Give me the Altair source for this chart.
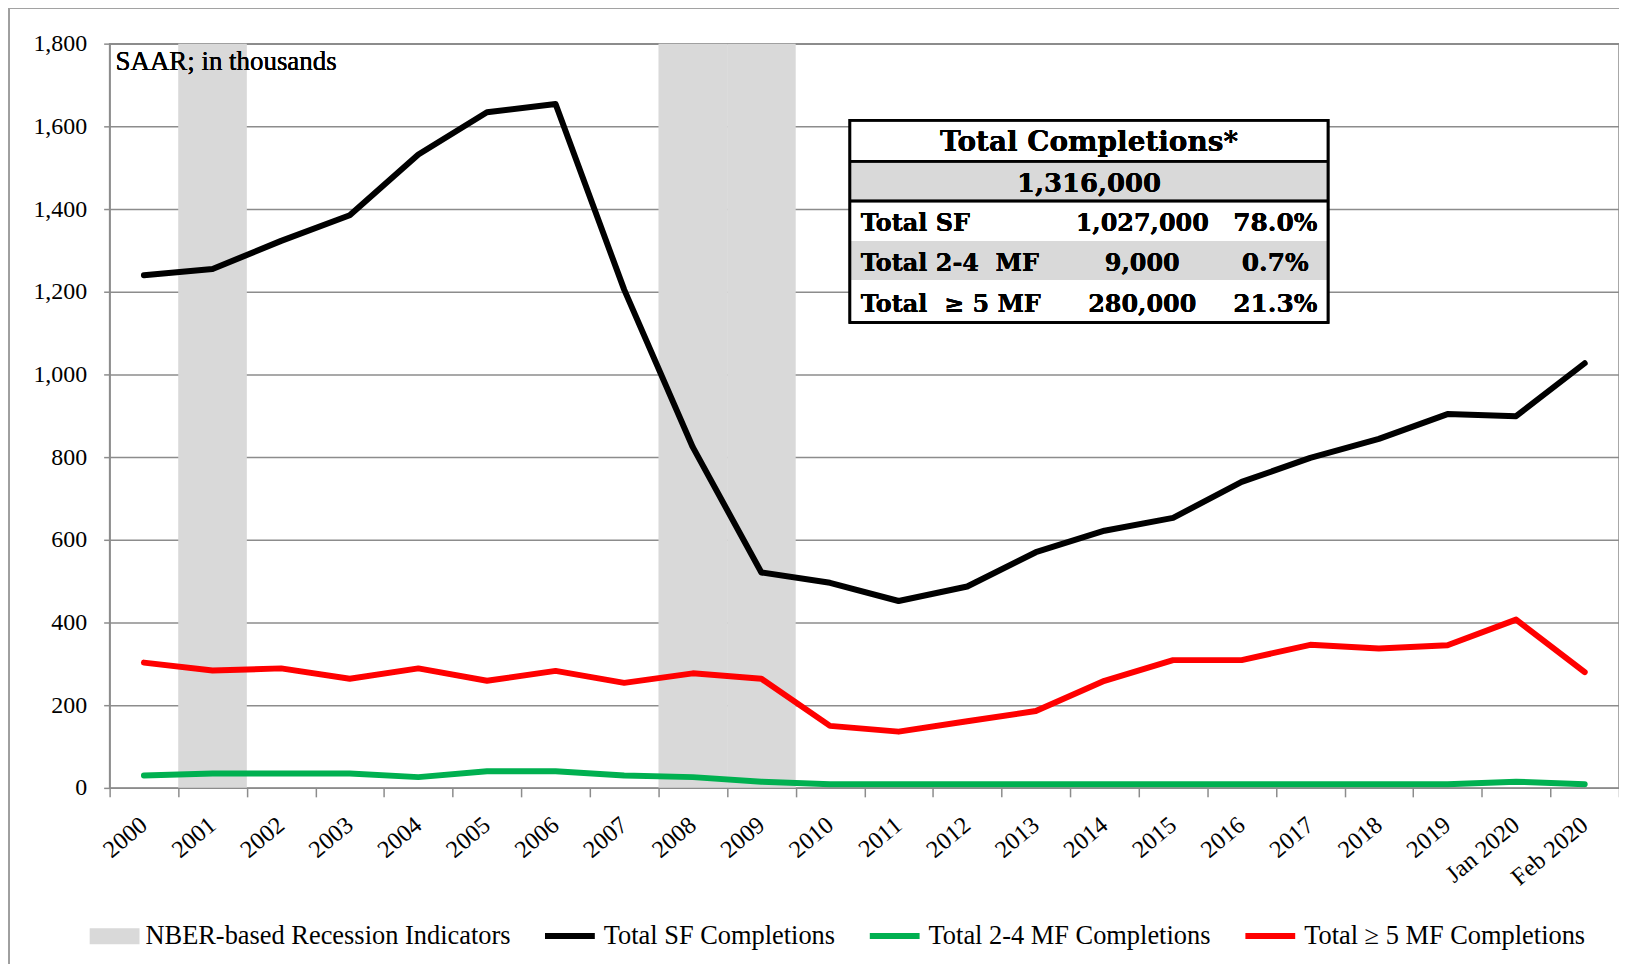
import altair as alt
import pandas as pd

# ---------------- data ----------------
categories = ["2000", "2001", "2002", "2003", "2004", "2005", "2006", "2007", "2008", "2009",
              "2010", "2011", "2012", "2013", "2014", "2015", "2016", "2017", "2018", "2019",
              "Jan 2020", "Feb 2020"]
sf_completions = [1240, 1255, 1323, 1385, 1532, 1634, 1654, 1205, 824, 521,
                  496, 452, 487, 570, 622, 653, 740, 798, 844, 904, 899, 1027]
mf24_completions = [30, 35, 35, 35, 26, 40, 40, 30, 26, 15,
                    9, 9, 9, 9, 9, 9, 9, 9, 9, 9, 15, 9]
mf5_completions = [303, 284, 289, 264, 289, 259, 283, 254, 277, 264,
                   150, 136, 161, 186, 259, 309, 309, 346, 337, 345, 407, 280]
recession_categories = ["2001", "2008", "2009"]

recession_name = "NBER-based Recession Indicators"
series_names = ["Total SF Completions", "Total 2-4 MF Completions",
                "Total \u2265 5 MF Completions"]
series_colors = ["#000000", "#00B050", "#FF0000"]

y_ticks = [0, 200, 400, 600, 800, 1000, 1200, 1400, 1600, 1800]

NB = "\u00a0"
table_title = "Total Completions*"
table_total = "1,316,000"
table_labels = ["Total SF", "Total 2-4 " + NB + "MF", "Total " + NB + "\u2265 5 MF"]
table_values = ["1,027,000", "9,000", "280,000"]
table_pcts = ["78.0%", "0.7%", "21.3%"]

# ---------------- frames ----------------
lines_df = pd.concat([
    pd.DataFrame({"cat": categories, "value": vals, "series": name})
    for name, vals in zip(series_names, [sf_completions, mf24_completions, mf5_completions])
], ignore_index=True)
rec_df = pd.DataFrame({"cat": recession_categories, "kind": recession_name})

SERIF = "Liberation Serif"
TSERIF = "DejaVu Serif"
GRID = "#8C8C8C"

xscale = alt.Scale(type="band", domain=categories, paddingInner=0, paddingOuter=0)
yscale = alt.Scale(domain=[0, 1800], nice=False, zero=True)

recession = alt.Chart(rec_df).mark_rect().encode(
    x=alt.X("cat:N", scale=xscale, sort=categories,
            axis=alt.Axis(title=None, tickBand="extent", labelAngle=-40, labelAlign="right",
                          labelBaseline="middle", labelPadding=25, tickSize=9,
                          labelFont=SERIF, labelFontSize=24.5, labelColor="black",
                          domainColor=GRID, domainWidth=1.5, tickColor=GRID, tickWidth=1.5,
                          grid=False, labelOverlap=False)),
    fill=alt.Fill("kind:N", scale=alt.Scale(domain=[recession_name], range=["#D9D9D9"]),
                  legend=alt.Legend(title=None, orient="none", legendX=-20, legendY=871,
                                    direction="horizontal",
                                    symbolType="M-1,-0.32H1V0.32H-1Z", symbolSize=2500,
                                    symbolStrokeWidth=0, symbolOpacity=1,
                                    labelFont=SERIF, labelFontSize=26.5, labelColor="black",
                                    labelOffset=6, labelLimit=1000)),
)

lines = alt.Chart(lines_df).mark_line(strokeWidth=6, strokeJoin="round", strokeCap="round").encode(
    x=alt.X("cat:N", scale=xscale, sort=categories, bandPosition=0.5),
    y=alt.Y("value:Q", scale=yscale,
            axis=alt.Axis(title=None, values=y_ticks, format=",.0f", tickSize=6, labelPadding=17,
                          labelFont=SERIF, labelFontSize=24, labelColor="black",
                          domainColor=GRID, domainWidth=1.5, tickColor=GRID, tickWidth=1.5,
                          gridColor=GRID, gridWidth=1.5)),
    stroke=alt.Stroke("series:N", scale=alt.Scale(domain=series_names, range=series_colors),
                      legend=alt.Legend(title=None, orient="none", legendX=434, legendY=867.5,
                                        direction="horizontal", symbolType="stroke",
                                        symbolSize=2500, symbolStrokeWidth=6,
                                        labelFont=SERIF, labelFontSize=26.5, labelColor="black",
                                        labelOffset=6, columnPadding=22, labelLimit=1000)),
    detail="series:N",
)

# subtitle inside plot
saar = alt.Chart(rec_df).mark_text(
    text="SAAR; in thousands", align="left", baseline="alphabetic",
    font=SERIF, fontSize=27, color="black"
).encode(x=alt.value(6), y=alt.value(26))

# ---------------- table annotation ----------------
TX0, TX1, TY0, TY1 = 743, 1223, 77, 280
ROW = [118, 158, 198, 237]


def box(x0, x1, y0, y1, **kw):
    return alt.Chart(rec_df).mark_rect(**kw).encode(
        x=alt.value(x0), x2=alt.value(x1), y=alt.value(y0), y2=alt.value(y1))


def hline(y, w=2.5):
    return alt.Chart(rec_df).mark_rule(color="black", strokeWidth=w).encode(
        x=alt.value(TX0), x2=alt.value(TX1), y=alt.value(y))


def txt(s, x, y, align="center", size=24):
    return alt.Chart(rec_df).mark_text(
        text=s, align=align, baseline="alphabetic", font=TSERIF, fontWeight="bold",
        fontSize=size, color="black").encode(x=alt.value(x), y=alt.value(y))


table_layers = [
    box(TX0, TX1, TY0, TY1, color="white"),
    box(TX0, TX1, ROW[0], ROW[1], color="#D9D9D9"),
    box(TX0, TX1, ROW[2], ROW[3], color="#D9D9D9"),
    hline(ROW[0]),
    hline(ROW[1]),
    box(TX0, TX1, TY0, TY1, fillOpacity=0, stroke="black", strokeWidth=2.5),
    txt(table_title, (TX0 + TX1) / 2, 108, size=28),
    txt(table_total, (TX0 + TX1) / 2, 149, size=26),
]
row_baselines = [188.5, 228, 269]
for i in range(3):
    yb = row_baselines[i]
    table_layers.append(txt(table_labels[i], 754, yb, align="left"))
    table_layers.append(txt(table_values[i], 1036.5, yb))
    table_layers.append(txt(table_pcts[i], 1170, yb, size=25))

# outer chart frame (decorative)
frame_left = alt.Chart(rec_df).mark_rule(color="#A0A0A0", strokeWidth=2).encode(
    x=alt.value(-101), y=alt.value(-36), y2=alt.value(1000))
frame_top = alt.Chart(rec_df).mark_rule(color="#A0A0A0", strokeWidth=2).encode(
    x=alt.value(-101), x2=alt.value(1530), y=alt.value(-36))

chart = alt.layer(
    recession, lines, saar, *table_layers, frame_left, frame_top
).properties(
    width=1515, height=747,
    autosize=alt.AutoSizeParams(type="none"),
    padding={"left": 102, "top": 34, "right": 0, "bottom": 175},
    background="white",
).resolve_legend(fill="independent", stroke="independent").configure_view(
    stroke=GRID, strokeWidth=1.5
)

chart.save("out.html", embed_options={"renderer": "svg", "actions": False})
